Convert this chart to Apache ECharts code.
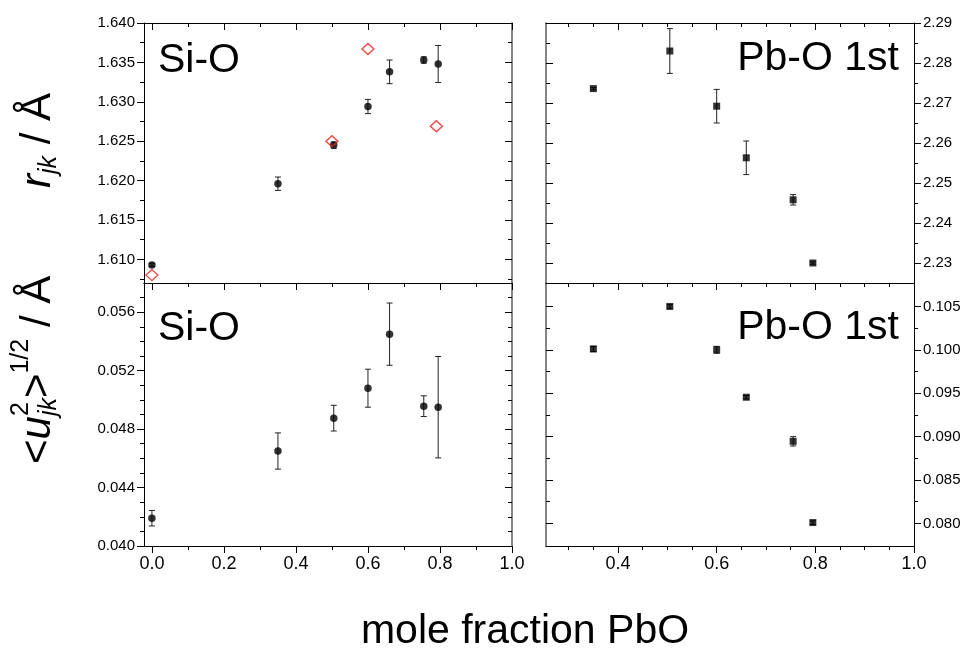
<!DOCTYPE html>
<html><head><meta charset="utf-8">
<script src="https://cdn.jsdelivr.net/npm/echarts@6/dist/echarts.min.js"></script>
<style>html,body{margin:0;padding:0;background:#fff}#c{width:966px;height:648px}</style>
</head><body><div id="c"></div>
<script>
// ---------- data ----------
const xSiO = [0.0, 0.35, 0.505, 0.60, 0.66, 0.755, 0.795];
const rSiO = [1.6093, 1.6196, 1.6245, 1.6294, 1.6338, 1.6353, 1.6348];
const rSiOErr = [0.0002, 0.00085, 0.0004, 0.0009, 0.0015, 0.0004, 0.00235];
const xSiORef = [0.0, 0.50, 0.60, 0.79];
const rSiORef = [1.6080, 1.6250, 1.6367, 1.6269];
const uSiO = [0.0419, 0.0465, 0.04875, 0.0508, 0.0545, 0.04957, 0.0495];
const uSiOErr = [0.00053, 0.00124, 0.00088, 0.0013, 0.00213, 0.00071, 0.00347];
const xPbO = [0.35, 0.505, 0.60, 0.66, 0.755, 0.795];
const rPbO = [2.2736, 2.2830, 2.2692, 2.2563, 2.2458, 2.2300];
const rPbOErr = [0.0003, 0.0056, 0.0042, 0.0042, 0.0013, 0.0003];
const uPbO = [0.1001, 0.1050, 0.1000, 0.09454, 0.08946, 0.0801];
const uPbOErr = [0.0003, 0.0002, 0.0004, 0.0002, 0.00054, 0.0002];

// ---------- ticks ----------
const xMajorL = [0.0, 0.2, 0.4, 0.6, 0.8, 1.0];
const xMinorL = [0.1, 0.3, 0.5, 0.7, 0.9];
const xLabL = ['0.0', '0.2', '0.4', '0.6', '0.8', '1.0'];
const xMajorR = [0.4, 0.6, 0.8, 1.0];
const xMinorR = [0.3, 0.35, 0.45, 0.5, 0.55, 0.65, 0.7, 0.75, 0.85, 0.9, 0.95];
const xLabR = ['0.4', '0.6', '0.8', '1.0'];
const yMajorTL = [1.610, 1.615, 1.620, 1.625, 1.630, 1.635, 1.640];
const yMinorTL = [1.6075, 1.6125, 1.6175, 1.6225, 1.6275, 1.6325, 1.6375];
const yLabTL = ['1.610', '1.615', '1.620', '1.625', '1.630', '1.635', '1.640'];
const yMajorTR = [2.23, 2.24, 2.25, 2.26, 2.27, 2.28, 2.29];
const yMinorTR = [2.235, 2.245, 2.255, 2.265, 2.275, 2.285];
const yLabTR = ['2.23', '2.24', '2.25', '2.26', '2.27', '2.28', '2.29'];
const yMajorBL = [0.040, 0.044, 0.048, 0.052, 0.056];
const yMinorBL = [0.041, 0.042, 0.043, 0.045, 0.046, 0.047, 0.049, 0.050, 0.051, 0.053, 0.054, 0.055, 0.057];
const yLabBL = ['0.040', '0.044', '0.048', '0.052', '0.056'];
const yMajorBR = [0.080, 0.085, 0.090, 0.095, 0.100, 0.105];
const yMinorBR = [0.0825, 0.0875, 0.0925, 0.0975, 0.1025];
const yLabBR = ['0.080', '0.085', '0.090', '0.095', '0.100', '0.105'];

const FONT = '"Liberation Sans", Arial, sans-serif';
const FAM = 'Liberation Sans';

const grids = [
  {left: 144, top: 23, width: 368, height: 260},
  {left: 546, top: 23, width: 368, height: 260},
  {left: 144, top: 283, width: 368, height: 263},
  {left: 546, top: 283, width: 368, height: 263}
];

const panels = [
  {x: {min: -0.022, max: 1.0, maj: xMajorL, mi: xMinorL, lab: null},
   y: {min: 1.607, max: 1.640, maj: yMajorTL, mi: yMinorTL, lab: yLabTL, side: 'left'}},
  {x: {min: 0.254, max: 1.0, maj: xMajorR, mi: xMinorR, lab: null},
   y: {min: 2.225, max: 2.29, maj: yMajorTR, mi: yMinorTR, lab: yLabTR, side: 'right'}},
  {x: {min: -0.022, max: 1.0, maj: xMajorL, mi: xMinorL, lab: xLabL},
   y: {min: 0.040, max: 0.058, maj: yMajorBL, mi: yMinorBL, lab: yLabBL, side: 'left'}},
  {x: {min: 0.254, max: 1.0, maj: xMajorR, mi: xMinorR, lab: xLabR},
   y: {min: 0.0774, max: 0.1077, maj: yMajorBR, mi: yMinorBR, lab: yLabBR, side: 'right'}}
];

function fmt(ticks, labels) {
  return function (v) {
    const i = ticks.findIndex(t => Math.abs(t - v) < 1e-9);
    return i >= 0 ? labels[i] : '';
  };
}

const xAxes = [], yAxes = [];
function baseAxis(g, s, pos) {
  return {type: 'value', gridIndex: g, position: pos, min: s.min, max: s.max,
    splitLine: {show: false}, minorTick: {show: false}, minorSplitLine: {show: false}};
}
panels.forEach((p, g) => {
  const sx = p.x, sy = p.y;
  xAxes.push(Object.assign(baseAxis(g, sx, 'bottom'), {
    axisLine: {show: true, onZero: false, lineStyle: {color: '#000', width: 1}},
    axisTick: {show: true, inside: false, length: 7, customValues: sx.maj, lineStyle: {color: '#000', width: 1}},
    axisLabel: {show: !!sx.lab, customValues: sx.maj, formatter: sx.lab ? fmt(sx.maj, sx.lab) : '',
      fontSize: 18, fontFamily: FONT, color: '#000', margin: 9}
  }));
  xAxes.push(Object.assign(baseAxis(g, sx, 'bottom'), {
    axisLine: {show: false, onZero: false},
    axisTick: {show: true, inside: false, length: 4, customValues: sx.mi, lineStyle: {color: '#000', width: 1}},
    axisLabel: {show: false}
  }));
  xAxes.push(Object.assign(baseAxis(g, sx, 'top'), {
    axisLine: {show: true, onZero: false, lineStyle: {color: '#000', width: 1}},
    axisTick: {show: true, inside: true, length: 7, customValues: sx.maj, lineStyle: {color: '#000', width: 1}},
    axisLabel: {show: false}
  }));
  xAxes.push(Object.assign(baseAxis(g, sx, 'top'), {
    axisLine: {show: false, onZero: false},
    axisTick: {show: true, inside: true, length: 4, customValues: sx.mi, lineStyle: {color: '#000', width: 1}},
    axisLabel: {show: false}
  }));
  const other = sy.side === 'left' ? 'right' : 'left';
  yAxes.push(Object.assign(baseAxis(g, sy, sy.side), {
    axisLine: {show: true, onZero: false, lineStyle: {color: '#000', width: 1}},
    axisTick: {show: true, inside: false, length: 7, customValues: sy.maj, lineStyle: {color: '#000', width: 1}},
    axisLabel: {show: true, customValues: sy.maj, formatter: fmt(sy.maj, sy.lab),
      fontSize: 15, fontFamily: FONT, color: '#000', margin: 9}
  }));
  yAxes.push(Object.assign(baseAxis(g, sy, sy.side), {
    axisLine: {show: false, onZero: false},
    axisTick: {show: true, inside: false, length: 4, customValues: sy.mi, lineStyle: {color: '#000', width: 1}},
    axisLabel: {show: false}
  }));
  yAxes.push(Object.assign(baseAxis(g, sy, other), {
    axisLine: {show: true, onZero: false, lineStyle: {color: '#666', width: 1.6}},
    axisTick: {show: true, inside: true, length: 7, customValues: sy.maj, lineStyle: {color: '#000', width: 1}},
    axisLabel: {show: false}
  }));
  yAxes.push(Object.assign(baseAxis(g, sy, other), {
    axisLine: {show: false, onZero: false},
    axisTick: {show: true, inside: true, length: 4, customValues: sy.mi, lineStyle: {color: '#000', width: 1}},
    axisLabel: {show: false}
  }));
});

function errSeries(g, xs, ys, es) {
  return {
    type: 'custom', xAxisIndex: g * 4, yAxisIndex: g * 4, silent: true, z: 2,
    data: xs.map((x, i) => [x, ys[i] - es[i], ys[i] + es[i]]),
    encode: {x: 0, y: [1, 2]},
    renderItem: function (params, api) {
      const x = api.value(0), lo = api.value(1), hi = api.value(2);
      const a = api.coord([x, lo]), b = api.coord([x, hi]);
      const w = 3, st = {stroke: '#222', lineWidth: 1};
      return {type: 'group', children: [
        {type: 'line', shape: {x1: a[0], y1: a[1], x2: b[0], y2: b[1]}, style: st},
        {type: 'line', shape: {x1: a[0] - w, y1: a[1], x2: a[0] + w, y2: a[1]}, style: st},
        {type: 'line', shape: {x1: b[0] - w, y1: b[1], x2: b[0] + w, y2: b[1]}, style: st}
      ]};
    }
  };
}
function pts(g, xs, ys, symbol, size) {
  return {type: 'scatter', xAxisIndex: g * 4, yAxisIndex: g * 4, silent: true, z: 3,
    symbol: symbol, symbolSize: size, itemStyle: {color: '#000'},
    data: xs.map((x, i) => [x, ys[i]])};
}

const series = [
  errSeries(0, xSiO, rSiO, rSiOErr), pts(0, xSiO, rSiO, 'circle', 7.5),
  {type: 'scatter', xAxisIndex: 0, yAxisIndex: 0, silent: true, z: 4, symbol: 'diamond', symbolSize: [12, 11],
   itemStyle: {color: 'rgba(0,0,0,0)', borderColor: '#ee1c1c', borderWidth: 1.4},
   data: xSiORef.map((x, i) => [x, rSiORef[i]])},
  errSeries(1, xPbO, rPbO, rPbOErr), pts(1, xPbO, rPbO, 'rect', 7),
  errSeries(2, xSiO, uSiO, uSiOErr), pts(2, xSiO, uSiO, 'circle', 7.5),
  errSeries(3, xPbO, uPbO, uPbOErr), pts(3, xPbO, uPbO, 'rect', 7)
];

// ---------- text graphics ----------
const mctx = document.createElement('canvas').getContext('2d');
function tw(t, size, italic) {
  mctx.font = (italic ? 'italic ' : '') + size + 'px ' + FONT;
  return mctx.measureText(t).width;
}
function txt(t, x, y, size, italic, align) {
  return {type: 'text', x: x, y: y, silent: true,
    style: {text: t, fontSize: size, fontFamily: FAM, fontStyle: italic ? 'italic' : 'normal', fill: '#000',
      align: align || 'left', verticalAlign: 'middle', textAlign: align || 'left', textVerticalAlign: 'middle'}};
}
function rotLabel(cx, by, parts) {
  let x = 0, lastStart = 0;
  const children = [];
  parts.forEach(p => {
    const w = tw(p.t, p.s, p.i);
    let start;
    if (p.same) {
      start = lastStart;
      x = Math.max(x, start + w);
    } else {
      start = x;
      x = start + w;
    }
    lastStart = start;
    children.push(txt(p.t, start, p.dy || 0, p.s, p.i));
  });
  return {type: 'group', x: cx, y: by, rotation: Math.PI / 2, children: children};
}
const M = 42, S = 25;
const graphics = [
  txt('Si-O', 158, 61, 41, false),
  txt('Pb-O 1st', 899, 59, 41, false, 'right'),
  txt('Si-O', 158, 329, 41, false),
  txt('Pb-O 1st', 899, 328, 41, false, 'right'),
  txt('mole fraction PbO', 525, 632, 41, false, 'center'),
  rotLabel(38, 188, [
    {t: 'r', s: M, i: true}, {t: 'jk', s: S, i: true, dy: 11}, {t: ' / Å', s: M, i: false}
  ]),
  rotLabel(38, 464, [
    {t: '<', s: M}, {t: 'u', s: M, i: true}, {t: 'jk', s: S, i: true, dy: 11},
    {t: '2', s: S, dy: -17, same: true}, {t: '>', s: M}, {t: '1/2', s: S, dy: -17}, {t: ' / Å', s: M}
  ])
];

const chart = echarts.init(document.getElementById('c'), null, {renderer: 'canvas'});
chart.setOption({
  animation: false,
  backgroundColor: '#fff',
  grid: grids,
  xAxis: xAxes,
  yAxis: yAxes,
  series: series,
  graphic: graphics
});
</script>
</body></html>
